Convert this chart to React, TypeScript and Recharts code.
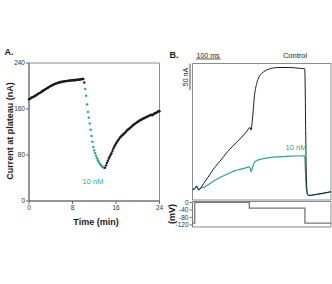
import React from "react";
import {
  Line,
  LineChart,
  ReferenceArea,
  ReferenceLine,
  Scatter,
  ScatterChart,
  XAxis,
  YAxis,
} from "recharts";

// ---- Panel A: plateau current sampled every 10 s (1/6 min) ----
const SAMPLE_MIN = 1 / 6;

const controlStartMin = 0;
const controlPlateauNA = [
  177, 178, 178.5, 180, 180.5, 181.5,
  182, 183.5, 184, 185.5, 186, 187.5,
  188, 189, 190.5, 191, 192.5, 193,
  194.5, 195, 196.5, 197, 198.5, 199,
  200, 201, 201.5, 202.5, 203, 204,
  204.5, 205, 205.5, 206.5, 206, 207,
  207.5, 207, 208, 208.5, 208, 209,
  208.5, 209, 209.5, 209, 210, 209.5,
  210, 210.5, 209.5, 210.5, 211, 210.5,
  211, 211.5, 211, 212, 211.5, 212.5,
  212, 206,
];

const drugStartMin = 10 + 2 / 6;
const drugPlateauNA = [
  195, 183, 168, 155, 145, 135, 124, 113, 103, 94, 88,
  83, 78.5, 74.5, 71, 68, 65, 63, 61, 59.5, 58.5, 57.5,
];

const washStartMin = 14;
const washPlateauNA = [
  58, 62, 66, 70, 74, 77, 80,
  83, 87, 91, 94, 97, 100,
  102.5, 105, 107, 109.5, 111.5, 113,
  114.5, 116, 117.5, 119, 120.5, 122.5,
  124, 125, 126.5, 128, 129, 131,
  132, 133.5, 134.5, 135.5, 136.5, 138,
  138.5, 140, 141, 141.5, 142.5, 143.5,
  144, 145, 145.5, 146.5, 147, 148,
  148.5, 149.5, 150, 149, 150.5, 152,
  152.5, 153, 154, 155, 156.5, 156,
];

const minuteTicks = [0, 8, 16, 24];
const plateauTicks = [0, 80, 160, 240];

// ---- Panel B: current traces (nA) and voltage protocol (mV) ----
const controlMs = [
  0, 6, 12, 16, 20, 25, 32, 45, 60, 76, 92, 110, 125, 142, 159, 180, 199, 216,
  232, 236, 241, 245, 249, 254, 259, 268, 279, 292, 305, 325, 345, 392, 430,
  452, 454, 456, 458, 461, 464, 468, 480, 500, 530, 558,
];
const controlTraceNA = [
  0, 0.5, 3, 6, 3, -1, 2, 11, 21, 32, 42.5, 52.5, 61, 71, 79.5, 89.5, 98.3, 107,
  116, 111, 130, 150, 173, 189, 199, 211, 217.5, 222, 225, 227.5, 228.5, 228.5,
  227, 226, 190, 110, 40, 0, -10, -11.5, -11, -9.5, -7, -4.5,
];

const drugMs = [
  0, 6, 12, 16, 20, 25, 32, 52, 72, 92, 112, 132, 152, 172, 192, 212, 228, 233,
  236, 240, 246, 252, 262, 272, 292, 312, 352, 400, 452, 454, 457, 460, 464,
  468, 480, 500, 530, 558,
];
const drugTraceNA = [
  0, 0.5, 3, 6, 3, -1, 2, 5, 11.5, 17.4, 22.5, 27, 31, 35, 37.5, 40, 42, 39,
  33, 38, 47, 51.5, 54.5, 56.2, 58, 59.5, 61, 62.3, 63, 45, 12, -4, -10, -11.5,
  -11, -9.5, -7, -4.5,
];

const stepMs = [0, 9, 9, 229, 229, 453, 453, 558];
const stepMV = [-110, -110, 0, 0, -30, -30, -110, -110];
const voltageTicks = [0, -40, -80, -120];

const TEAL = "#2ca58d";
const INK = "#1c1c1c";
const BOX = "#8c8c8c";
const FONT = "'Liberation Sans', Arial, sans-serif";

const toSamples = (start: number, values: number[]) =>
  values.map((nA, i) => ({ t: start + i * SAMPLE_MIN, nA }));

const controlPoints = toSamples(controlStartMin, controlPlateauNA);
const drugPoints = toSamples(drugStartMin, drugPlateauNA);
const washPoints = toSamples(washStartMin, washPlateauNA);

const controlTrace = controlMs.map((ms, i) => ({ ms, nA: controlTraceNA[i] }));
const drugTrace = drugMs.map((ms, i) => ({ ms, nA: drugTraceNA[i] }));
const stepTrace = stepMs.map((ms, i) => ({ ms, mV: stepMV[i] }));

const dot = (color: string) => (props: any) =>
  <circle cx={props.cx} cy={props.cy} r={1.2} fill={color} />;

function Note({
  x,
  y,
  rotate,
  style,
  children,
}: {
  x: number;
  y: number;
  rotate?: boolean;
  style?: React.CSSProperties;
  children: React.ReactNode;
}) {
  return (
    <div
      style={{
        position: "absolute",
        left: x,
        top: y,
        transform: `translate(-50%, -50%)${rotate ? " rotate(-90deg)" : ""}`,
        whiteSpace: "nowrap",
        lineHeight: 1,
        fontFamily: FONT,
        fontSize: 8,
        color: INK,
        ...style,
      }}
    >
      {children}
    </div>
  );
}

const tickStyle = { fill: "#333", fontSize: 6.5, fontFamily: FONT };
const bold: React.CSSProperties = { fontWeight: 700, fontSize: 9 };

export default function App() {
  return (
    <div
      style={{
        position: "absolute",
        left: 0,
        top: 0,
        width: 332,
        height: 284,
        background: "#fff",
        overflow: "hidden",
      }}
    >
      {/* A: plateau current over time */}
      <div style={{ position: "absolute", left: 0, top: 0 }}>
        <ScatterChart
          width={170}
          height={240}
          margin={{ top: 63, right: 10.5, bottom: 0, left: 0 }}
        >
          <ReferenceArea
            x1={0}
            x2={24}
            y1={0}
            y2={240}
            fill="none"
            stroke={BOX}
            strokeWidth={1}
            ifOverflow="visible"
          />
          <XAxis
            dataKey="t"
            type="number"
            domain={[0, 24]}
            ticks={minuteTicks}
            tick={tickStyle}
            tickSize={3}
            tickMargin={1}
            height={39}
            stroke="#666"
          />
          <YAxis
            dataKey="nA"
            type="number"
            domain={[0, 240]}
            ticks={plateauTicks}
            tick={tickStyle}
            tickSize={3}
            tickMargin={1}
            width={29}
            stroke="#666"
          />
          <Scatter data={controlPoints} fill={INK} shape={dot(INK)} isAnimationActive={false} />
          <Scatter data={drugPoints} fill={TEAL} shape={dot(TEAL)} isAnimationActive={false} />
          <Scatter data={washPoints} fill={INK} shape={dot(INK)} isAnimationActive={false} />
        </ScatterChart>
      </div>

      {/* B: current traces */}
      <div style={{ position: "absolute", left: 165, top: 40 }}>
        <LineChart
          width={167}
          height={161}
          margin={{ top: 23.5, right: 1, bottom: 1, left: 27.5 }}
        >
          <XAxis dataKey="ms" type="number" domain={[0, 558]} hide />
          <YAxis type="number" domain={[-20, 236]} hide />
          <ReferenceArea
            x1={0}
            x2={558}
            y1={-20}
            y2={236}
            fill="none"
            stroke={BOX}
            strokeWidth={1}
            ifOverflow="visible"
          />
          {/* scale bars: 100 ms and 50 nA */}
          <ReferenceLine
            segment={[
              { x: 14, y: 244.5 },
              { x: 114, y: 244.5 },
            ]}
            stroke="#555"
            strokeWidth={1}
            ifOverflow="visible"
          />
          <ReferenceLine
            segment={[
              { x: -10, y: 186 },
              { x: -10, y: 236 },
            ]}
            stroke="#555"
            strokeWidth={1}
            ifOverflow="visible"
          />
          <Line
            data={drugTrace}
            dataKey="nA"
            type="monotone"
            stroke={TEAL}
            strokeWidth={1.2}
            dot={false}
            isAnimationActive={false}
          />
          <Line
            data={controlTrace}
            dataKey="nA"
            type="monotone"
            stroke={INK}
            strokeWidth={1}
            dot={false}
            isAnimationActive={false}
          />
        </LineChart>
      </div>

      {/* B: voltage protocol */}
      <div style={{ position: "absolute", left: 165, top: 195 }}>
        <LineChart
          width={167}
          height={40}
          margin={{ top: 6.5, right: 1, bottom: 8, left: 0 }}
        >
          <XAxis dataKey="ms" type="number" domain={[0, 558]} hide />
          <YAxis
            type="number"
            domain={[-131, 5]}
            ticks={voltageTicks}
            tick={tickStyle}
            tickSize={3}
            tickMargin={1}
            width={27.5}
            stroke="#777"
            interval={0}
          />
          <ReferenceArea
            x1={0}
            x2={558}
            y1={-131}
            y2={5}
            fill="none"
            stroke={BOX}
            strokeWidth={1}
            ifOverflow="visible"
          />
          <Line
            data={stepTrace}
            dataKey="mV"
            type="linear"
            stroke="#777"
            strokeWidth={1.3}
            dot={false}
            isAnimationActive={false}
          />
        </LineChart>
      </div>

      <Note x={9} y={52} style={bold}>A.</Note>
      <Note x={10} y={131} rotate style={bold}>Current at plateau (nA)</Note>
      <Note x={96} y={222} style={bold}>Time (min)</Note>
      <Note x={93} y={182} style={{ color: TEAL, fontSize: 7.5 }}>10 nM</Note>

      <Note x={174} y={55} style={bold}>B.</Note>
      <Note x={208} y={55} style={{ fontSize: 7 }}>100 ms</Note>
      <Note x={185} y={77} rotate style={{ fontSize: 7 }}>50 nA</Note>
      <Note x={295} y={56} style={{ fontSize: 7.5 }}>Control</Note>
      <Note x={296} y={148} style={{ color: TEAL, fontSize: 7.5 }}>10 nM</Note>
      <Note x={172} y={214} rotate style={bold}>(mV)</Note>
    </div>
  );
}
